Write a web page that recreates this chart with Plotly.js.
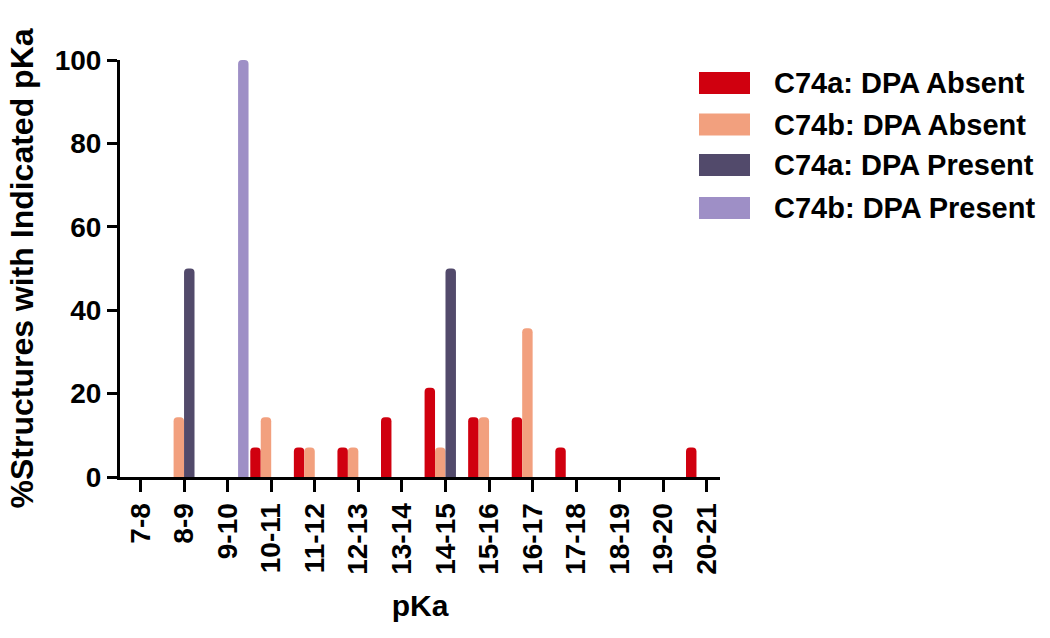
<!DOCTYPE html>
<html>
<head>
<meta charset="utf-8">
<script src="https://cdn.plot.ly/plotly-3.0.1.min.js"></script>
<style>html,body{margin:0;padding:0;background:#fff;}#chart{width:1050px;height:638px;}</style>
</head>
<body>
<div id="chart"></div>
<script>
const categories = ["7-8","8-9","9-10","10-11","11-12","12-13","13-14","14-15","15-16","16-17","17-18","18-19","19-20","20-21"];
const seriesNames = ["C74a: DPA Absent","C74b: DPA Absent","C74a: DPA Present","C74b: DPA Present"];
const c74aAbsent  = [0, 0, 0, 7.1, 7.1, 7.1, 14.3, 21.4, 14.3, 14.3, 7.1, 0, 0, 7.1];
const c74bAbsent  = [0, 14.3, 0, 14.3, 7.1, 7.1, 0, 7.1, 14.3, 35.7, 0, 0, 0, 0];
const c74aPresent = [0, 50, 0, 0, 0, 0, 0, 50, 0, 0, 0, 0, 0, 0];
const c74bPresent = [0, 0, 100, 0, 0, 0, 0, 0, 0, 0, 0, 0, 0, 0];
const seriesValues = [c74aAbsent, c74bAbsent, c74aPresent, c74bPresent];
const colors = ["#D0000F", "#F2A07E", "#524A6B", "#9E8FC6"];

const FONT = '"Liberation Sans", Arial, sans-serif';

const traces = seriesValues.map((vals, i) => ({
  type: 'bar',
  name: seriesNames[i],
  x: categories,
  y: vals,
  marker: {color: colors[i], line: {width: 0}},
  showlegend: false,
  hoverinfo: 'x+y+name'
}));

// custom legend with large swatches
const shapes = [];
const annotations = [];
const plotTop = 60, plotBottom = 477, plotH = plotBottom - plotTop;
const legendCenters = [83, 124.5, 165, 208];
seriesNames.forEach((nm, i) => {
  const cy = (plotBottom - legendCenters[i]) / plotH;
  const hh = 11 / plotH;
  shapes.push({type: 'rect', xref: 'paper', yref: 'paper', x0: 0.965, x1: 1.05, y0: cy - hh, y1: cy + hh,
    fillcolor: colors[i], line: {width: 0}});
  annotations.push({xref: 'paper', yref: 'paper', x: 1.087, y: cy, xanchor: 'left', yanchor: 'middle',
    text: nm, showarrow: false, font: {family: FONT, size: 29, color: '#000', weight: 'bold'}});
});

const layout = {
  width: 1050, height: 638,
  margin: {l: 120, r: 330, t: 60, b: 161},
  paper_bgcolor: '#fff', plot_bgcolor: '#fff',
  barmode: 'group', bargap: 0.04, bargroupgap: 0,
  barcornerradius: 4,
  font: {family: FONT, color: '#000'},
  xaxis: {
    type: 'category',
    range: [-0.47, 13.3],
    showline: true, linewidth: 3, linecolor: '#000',
    ticks: 'outside', ticklen: 12, tickwidth: 3, tickcolor: '#000',
    tickangle: -90,
    tickfont: {family: FONT, size: 28, color: '#000', weight: 'bold'},
    showgrid: false, zeroline: false,
    title: {text: 'pKa', font: {family: FONT, size: 30, color: '#000', weight: 'bold'}, standoff: 22}
  },
  yaxis: {
    range: [0, 100], dtick: 20, tick0: 0,
    showline: true, linewidth: 3, linecolor: '#000',
    ticks: 'outside', ticklen: 10, tickwidth: 3, tickcolor: '#000',
    tickfont: {family: FONT, size: 28, color: '#000', weight: 'bold'},
    showgrid: false, zeroline: false,
    title: {text: '%Structures with Indicated pKa', font: {family: FONT, size: 32, color: '#000', weight: 'bold'}, standoff: 12}
  },
  shapes: shapes,
  annotations: annotations,
  showlegend: false
};

Plotly.newPlot('chart', traces, layout, {displayModeBar: false, staticPlot: true});
</script>
</body>
</html>
